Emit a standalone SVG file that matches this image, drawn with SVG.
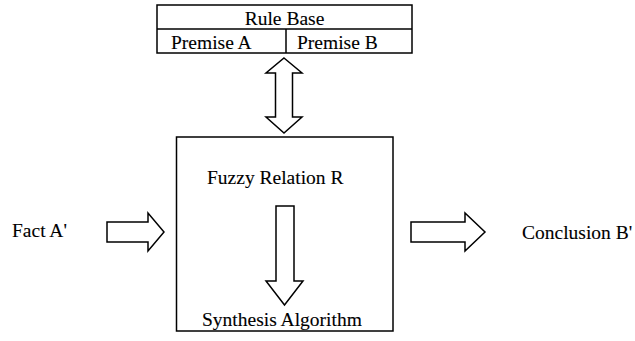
<svg xmlns="http://www.w3.org/2000/svg" width="635" height="341" viewBox="0 0 635 341">
  <style>
    .box { fill: #fff; stroke: #000; stroke-width: 1.5; }
    .arrow { fill: #fff; stroke: #000; stroke-width: 1.5; stroke-linejoin: miter; }
    .lbl { font-size: 19.5px; fill: #000; stroke: #000; stroke-width: 0.1; }
  </style>
  <rect width="635" height="341" fill="#fff"/>

  <g font-family="'Liberation Serif', 'Times New Roman', serif">
  <!-- Rule base table -->
  <g id="rule-base">
    <rect class="box" x="157" y="5" width="255" height="48"/>
    <line x1="157" y1="29" x2="412" y2="29" stroke="#000" stroke-width="1.5"/>
    <line x1="286" y1="29" x2="286" y2="53" stroke="#000" stroke-width="1.5"/>
    <text class="lbl" x="284.5" y="25" text-anchor="middle">Rule Base</text>
    <text class="lbl" x="171" y="49">Premise A</text>
    <text class="lbl" x="297" y="49">Premise B</text>
  </g>

  <!-- Inference block -->
  <g id="inference">
    <rect class="box" x="176.5" y="137" width="216.5" height="194"/>
    <text class="lbl" x="207" y="184">Fuzzy Relation R</text>
    <text class="lbl" x="202" y="326">Synthesis Algorithm</text>
  </g>

  <g id="fact">
    <text class="lbl" x="12" y="237">Fact A'</text>
  </g>

  <g id="conclusion">
    <text class="lbl" x="522" y="239">Conclusion B'</text>
  </g>
  </g>

  <!-- Block arrows -->
  <g id="connectors">
    <!-- two-way arrow between rule base and inference block -->
    <polygon class="arrow" points="284,58 302,73 292.5,73 292.5,117 302,117 284,133 266,117 275.5,117 275.5,73 266,73"/>
    <!-- fuzzy relation to synthesis algorithm -->
    <polygon class="arrow" points="276,206 294,206 294,281 303,281 284.5,305 266,281 276,281"/>
    <!-- fact into inference block -->
    <polygon class="arrow" points="107,222 148,222 148,213 164,232 148,251 148,242 107,242"/>
    <!-- inference block to conclusion -->
    <polygon class="arrow" points="411,222 465,222 465,213 485,232 465,251 465,242 411,242"/>
  </g>
</svg>
